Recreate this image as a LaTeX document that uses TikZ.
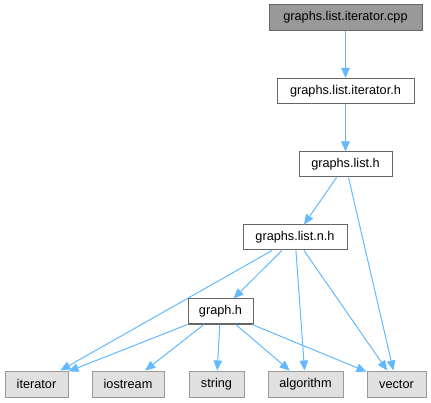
\documentclass[tikz,border=0pt]{standalone}
\usepackage{fontspec}
\setmainfont{Liberation Sans}
\usetikzlibrary{arrows.meta}
\definecolor{edgeblue}{HTML}{63B8FF}
\definecolor{bordergray}{HTML}{666666}
\definecolor{extborder}{HTML}{999999}
\definecolor{extfill}{HTML}{E0E0E0}
\definecolor{topfill}{HTML}{999999}
\tikzset{
  box/.style={draw=bordergray, fill=white, line width=1pt, inner sep=0pt, minimum height=25pt, font=\fontsize{12.7pt}{14pt}\selectfont, text=black},
  topbox/.style={box, fill=topfill, minimum height=26pt},
  extbox/.style={box, draw=extborder, fill=extfill, minimum height=26pt},
  dep/.style={draw=edgeblue, line width=1pt, -{Triangle[length=10pt,width=8.5pt]}}
}
\begin{document}
\begin{tikzpicture}[x=1pt,y=-1pt]
\useasboundingbox (0,0) rectangle (431,403);
\node[topbox, minimum width=153pt] (cpp) at (345.5,17.5) {graphs.list.iterator.cpp};
\node[box, minimum width=137pt] (ith) at (345.5,91) {graphs.list.iterator.h};
\node[box, minimum width=93pt] (glh) at (345.5,164.5) {graphs.list.h};
\node[box, minimum width=104pt] (glnh) at (295,237.5) {graphs.list.n.h};
\node[box, minimum width=65pt] (gh) at (220.5,311.5) {graph.h};
\node[extbox, minimum width=63pt] (iter) at (36.5,384) {iterator};
\node[extbox, minimum width=72pt] (ios) at (128,384) {iostream};
\node[extbox, minimum width=55pt] (str) at (216.5,384) {string};
\node[extbox, minimum width=75pt] (alg) at (305.5,384) {algorithm};
\node[extbox, minimum width=59pt] (vec) at (396.5,384) {vector};
\draw[dep] (cpp) -- (ith);
\draw[dep] (ith) -- (glh);
\draw[dep] (glh) -- (glnh);
\draw[dep] (glh) -- (vec);
\draw[dep] (glnh) -- (iter);
\draw[dep] (glnh) -- (gh);
\draw[dep] (glnh) -- (alg);
\draw[dep] (glnh) -- (vec);
\draw[dep] (gh) -- (iter);
\draw[dep] (gh) -- (ios);
\draw[dep] (gh) -- (str);
\draw[dep] (gh) -- (alg);
\draw[dep] (gh) -- (vec);
\end{tikzpicture}
\end{document}
